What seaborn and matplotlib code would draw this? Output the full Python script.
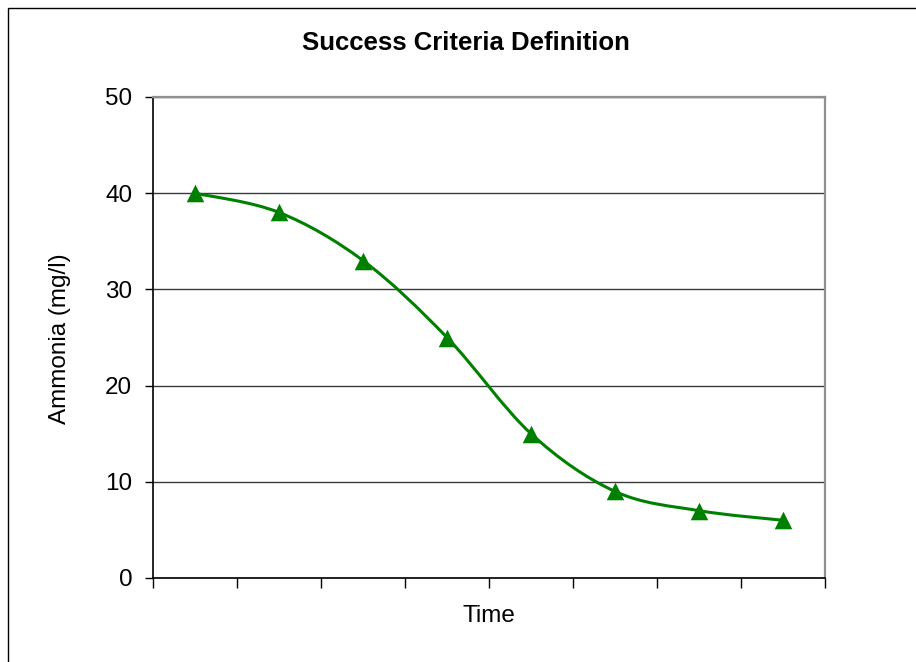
import numpy as np
import pandas as pd
import matplotlib
matplotlib.use("Agg")
import matplotlib.pyplot as plt
from matplotlib.path import Path
from matplotlib.patches import PathPatch, Rectangle
import seaborn as sns

# Data
time_points = [1, 2, 3, 4, 5, 6, 7, 8]
ammonia = [40, 38, 33, 25, 15, 9, 7, 6]
y_ticks = [0, 10, 20, 30, 40, 50]
title = "Success Criteria Definition"
x_label = "Time"
y_label = "Ammonia (mg/l)"

sns.set_style("white")
plt.rcParams['font.family'] = ['Liberation Sans', 'DejaVu Sans']
plt.rcParams['text.color'] = 'black'
plt.rcParams['xtick.color'] = 'black'
plt.rcParams['ytick.color'] = 'black'

W, H = 916, 662
fig = plt.figure(figsize=(W / 100, H / 100), dpi=100)
ax = fig.add_axes([153 / W, 1 - 578 / H, (825 - 153) / W, (578 - 97) / H])

df = pd.DataFrame({"pos": np.arange(len(time_points)), "val": ammonia})
green = "#008000"

# Smoothed line (Catmull-Rom as cubic Bezier segments, like Excel smoothing)
xs = df["pos"].to_numpy(dtype=float)
ys = df["val"].to_numpy(dtype=float)
verts = [(xs[0], ys[0])]
codes = [Path.MOVETO]
n = len(xs)
for i in range(n - 1):
    p0 = (xs[max(i - 1, 0)], ys[max(i - 1, 0)])
    p1 = (xs[i], ys[i])
    p2 = (xs[i + 1], ys[i + 1])
    p3 = (xs[min(i + 2, n - 1)], ys[min(i + 2, n - 1)])
    c1 = (p1[0] + (p2[0] - p0[0]) / 6, p1[1] + (p2[1] - p0[1]) / 6)
    c2 = (p2[0] - (p3[0] - p1[0]) / 6, p2[1] - (p3[1] - p1[1]) / 6)
    verts += [c1, c2, p2]
    codes += [Path.CURVE4] * 3
ax.add_patch(PathPatch(Path(verts, codes), facecolor="none", edgecolor=green,
                       linewidth=2.2, zorder=3, capstyle="round"))

sns.scatterplot(data=df, x="pos", y="val", marker="^", s=160, color=green,
                edgecolor=green, linewidth=0, zorder=4, ax=ax, legend=False)

ax.set_xlim(-0.5, len(time_points) - 0.5)
ax.set_ylim(0, 50)
ax.set_yticks(y_ticks)
ax.set_yticklabels([str(v) for v in y_ticks], fontsize=17.5)
ax.set_xticks(np.arange(-0.5, len(time_points), 1.0))
ax.set_xticklabels([])
ax.tick_params(axis="y", direction="out", length=6, width=1, color="black",
               left=True, pad=9)
ax.tick_params(axis="x", direction="out", length=7.5, width=1, color="black",
               bottom=True)
ax.yaxis.grid(True, color="#3a3a3a", linewidth=1)
ax.xaxis.grid(False)
ax.set_axisbelow(True)

for side in ["left", "bottom"]:
    ax.spines[side].set_color("black")
    ax.spines[side].set_linewidth(1.2)
for side in ["top", "right"]:
    ax.spines[side].set_visible(True)
    ax.spines[side].set_color("#909090")
    ax.spines[side].set_linewidth(1.6)

ax.set_xlabel("")
ax.set_ylabel("")
fig.text(489 / W, 1 - 622 / H, x_label, ha="center", va="baseline", fontsize=17.5)
fig.text(60 / W, 1 - 339 / H, y_label, ha="center", va="center", fontsize=17.5,
         rotation=90)
fig.text(465.5 / W, 1 - 50 / H, title, ha="center", va="baseline", fontsize=18.5,
         fontweight="bold")

# Outer chart border
fig.patches.append(Rectangle((8 / W, -0.1), 1.2, 1 - 8 / H + 0.1,
                             transform=fig.transFigure, fill=False,
                             edgecolor="black", linewidth=1))

fig.savefig("out.png", dpi=100)
